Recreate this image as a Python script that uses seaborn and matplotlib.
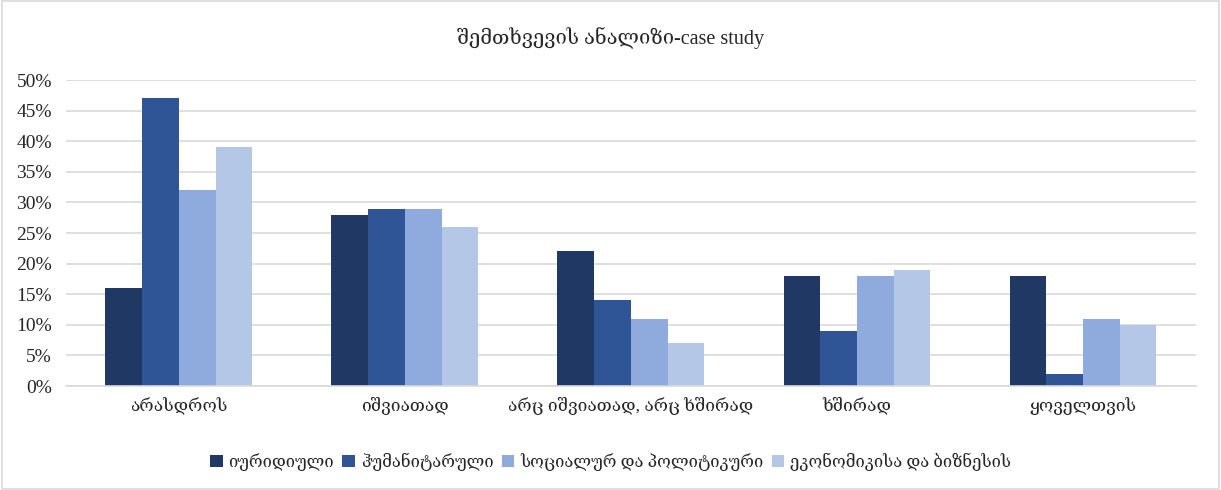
import matplotlib
matplotlib.use("Agg")
import matplotlib.pyplot as plt
import seaborn as sns
import pandas as pd
from matplotlib.ticker import PercentFormatter
from matplotlib.patches import Rectangle

categories = ["არასდროს", "იშვიათად", "არც იშვიათად, არც ხშირად", "ხშირად", "ყოველთვის"]
series_names = ["იურიდიული", "ჰუმანიტარული", "სოციალურ და პოლიტიკური", "ეკონომიკისა და ბიზნესის"]
iuridiuli = [0.16, 0.28, 0.22, 0.18, 0.18]
humanitaruli = [0.47, 0.29, 0.14, 0.09, 0.02]
socialuri = [0.32, 0.29, 0.11, 0.18, 0.11]
ekonomika = [0.39, 0.26, 0.07, 0.19, 0.10]
colors = ["#203864", "#2F5597", "#8FAADC", "#B4C7E7"]
title = "შემთხვევის ანალიზი-case study"

rows = []
for name, vals in zip(series_names, [iuridiuli, humanitaruli, socialuri, ekonomika]):
    for c, v in zip(categories, vals):
        rows.append({"category": c, "series": name, "value": v})
df = pd.DataFrame(rows)

sns.set_style("white")
plt.rcParams['font.family'] = ['Liberation Serif', 'DejaVu Serif', 'DejaVu Sans']

fig = plt.figure(figsize=(12.21, 4.90), dpi=100)
ax = fig.add_axes([0.054, 0.2122, 0.9255, 0.6245])
sns.barplot(data=df, x="category", y="value", hue="series", order=categories,
            hue_order=series_names, palette=colors, width=0.65, gap=0,
            saturation=1, errorbar=None, ax=ax, linewidth=0)

ax.set_ylim(0, 0.5)
ax.set_yticks([i * 0.05 for i in range(11)])
ax.yaxis.set_major_formatter(PercentFormatter(1.0, decimals=0))
ax.grid(axis='y', color='#d9d9d9', linewidth=1.2)
ax.set_axisbelow(True)
for s in ["top", "right", "left"]:
    ax.spines[s].set_visible(False)
ax.spines["bottom"].set_color("#d9d9d9")
ax.spines["bottom"].set_linewidth(1.2)
ax.tick_params(axis='y', length=0, labelsize=14, colors="#262626", pad=10)
ax.tick_params(axis='x', length=0, labelsize=12.5, colors="#262626", pad=8)
ax.set_xlabel("")
ax.set_ylabel("")
ax.set_xlim(-0.5, 4.5)

fig.text(0.5, 0.922, title, ha='center', va='center', fontsize=14.5, color="#262626")

handles, labels = ax.get_legend_handles_labels()
if ax.legend_:
    ax.legend_.remove()
fig.legend(handles, labels, loc='center', bbox_to_anchor=(0.5, 0.057), ncol=4,
           frameon=False, fontsize=12, handlelength=0.75, handleheight=0.75,
           handletextpad=0.35, columnspacing=0.5, labelcolor="#262626")

fig.patches.append(Rectangle((0.002, 0.002), 0.996, 0.996, transform=fig.transFigure,
                             fill=False, edgecolor="#d9d9d9", linewidth=1.2))

fig.savefig("out.png", dpi=100)
